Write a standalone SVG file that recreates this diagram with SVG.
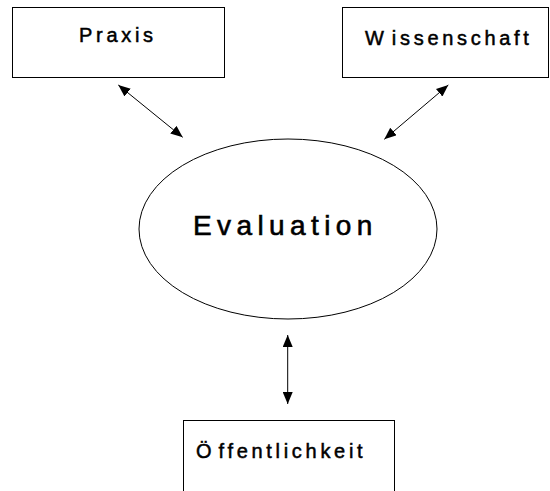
<svg xmlns="http://www.w3.org/2000/svg" width="550" height="491" viewBox="0 0 550 491">
<defs>
<style>
.box{fill:#fff;stroke:#000;stroke-width:1}
.lbl{font-family:"Liberation Sans",Arial,sans-serif;font-size:20px;fill:#000;stroke:#000;stroke-width:0.5px;letter-spacing:3.7px}
.big{font-family:"Liberation Sans",Arial,sans-serif;font-size:28px;fill:#000;stroke:#000;stroke-width:0.6px;letter-spacing:5.4px}
.conn{stroke:#000;stroke-width:1;fill:none;marker-start:url(#ah);marker-end:url(#ah)}
</style>
<marker id="ah" viewBox="0 0 12 10" refX="12" refY="5" markerWidth="12" markerHeight="10" markerUnits="userSpaceOnUse" orient="auto-start-reverse">
<path d="M0,0 L12,5 L0,10 Z" fill="#000"/>
</marker>
</defs>
<rect width="550" height="491" fill="#fff"/>
<g id="praxis">
<rect class="box" x="12.5" y="7.5" width="212" height="70"/>
<text class="lbl" x="79" y="42">Praxis</text>
</g>
<g id="wissenschaft">
<rect class="box" x="342.5" y="7.5" width="206" height="70"/>
<text class="lbl" x="365" y="45" word-spacing="-5">W issenschaft</text>
</g>
<g id="evaluation">
<ellipse cx="288" cy="229" rx="149" ry="90" fill="#fff" stroke="#000" stroke-width="1"/>
<text class="big" x="193" y="235">Evaluation</text>
</g>
<g id="oeffentlichkeit">
<rect class="box" x="183.5" y="420.5" width="211" height="80"/>
<text class="lbl" x="196" y="458" word-spacing="-6">Ö ffentlichkeit</text>
</g>
<g id="connectors">
<line class="conn" x1="118.3" y1="85" x2="182.7" y2="137.3"/>
<line class="conn" x1="448.3" y1="85" x2="384.3" y2="139.3"/>
<line class="conn" x1="287.7" y1="335" x2="287.7" y2="404"/>
</g>
</svg>
